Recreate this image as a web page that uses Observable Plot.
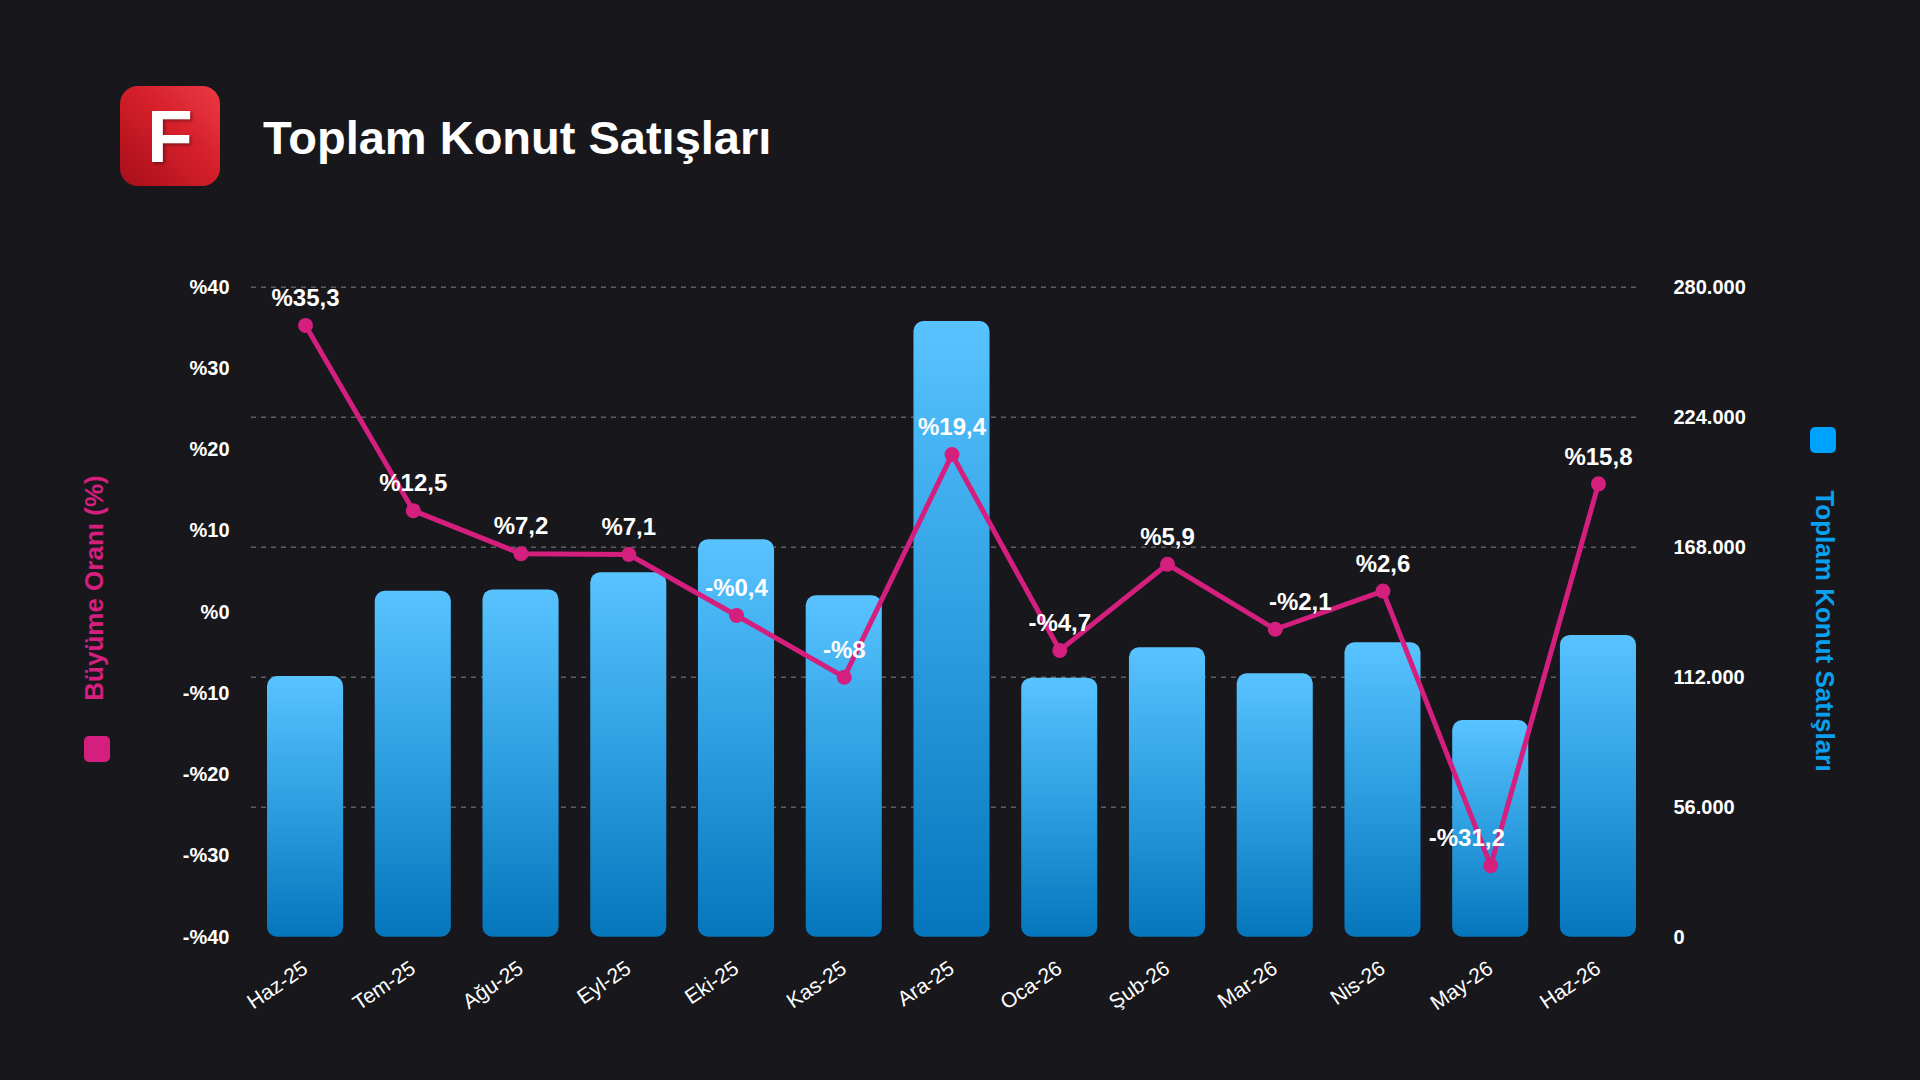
<!DOCTYPE html>
<html lang="tr">
<head>
<meta charset="utf-8">
<script src="https://cdn.jsdelivr.net/npm/d3@7"></script>
<script src="https://cdn.jsdelivr.net/npm/@observablehq/plot@0.6"></script>
<style>
  html, body { margin: 0; padding: 0; }
  body {
    width: 1920px; height: 1080px; overflow: hidden; position: relative;
    background: #18181c; font-family: "Liberation Sans", Arial, Helvetica, sans-serif; color: #fff;
  }
  #logo {
    position: absolute; left: 120px; top: 86px; width: 100px; height: 100px; border-radius: 18px;
    background: linear-gradient(to bottom left, #ec3a44 0%, #d41f2a 45%, #a70f19 100%);
    color: #fff; font-weight: bold; font-size: 75px; line-height: 100px; text-align: center;
    text-shadow: 2px 2px 3px rgba(0,0,0,0.35);
  }
  #title {
    position: absolute; left: 263px; top: 114px; font-size: 47px; line-height: 47px; font-weight: bold;
    color: #fff; white-space: nowrap;
  }
  .axtitle {
    position: absolute; font-size: 26px; font-weight: bold; white-space: nowrap; line-height: 26px;
  }
  #ltitle { left: 94px; top: 588px; color: #d41f7f; transform: translate(-50%, -50%) rotate(-90deg); }
  #rtitle { left: 1825px; top: 631px; color: #0aa0f0; transform: translate(-50%, -50%) rotate(90deg); }
  .sq { position: absolute; width: 26px; height: 26px; border-radius: 5px; }
  #lsq { left: 84px; top: 736px; background: #d41f7f; }
  #rsq { left: 1810px; top: 427px; background: #00a2ff; }
  #chart { position: absolute; left: 0; top: 199px; }
</style>
</head>
<body>
<div id="logo">F</div>
<div id="title">Toplam Konut Satışları</div>
<div class="axtitle" id="ltitle">Büyüme Oranı (%)</div>
<div class="sq" id="lsq"></div>
<div class="axtitle" id="rtitle">Toplam Konut Satışları</div>
<div class="sq" id="rsq"></div>
<div id="chart"></div>
<script>
const months = ["Haz-25","Tem-25","Ağu-25","Eyl-25","Eki-25","Kas-25","Ara-25","Oca-26","Şub-26","Mar-26","Nis-26","May-26","Haz-26"];
const sales = [112300, 149000, 149600, 157000, 171200, 147100, 265200, 111600, 124700, 113500, 126800, 93300, 130000];
const growth = [35.3, 12.5, 7.2, 7.1, -0.4, -8, 19.4, -4.7, 5.9, -2.1, 2.6, -31.2, 15.8];
const salesTicks = [0, 56000, 112000, 168000, 224000, 280000];
const gridTicks = [56000, 112000, 168000, 224000, 280000];
const growthTicks = [-40, -30, -20, -10, 0, 10, 20, 30, 40];

const data = months.map((m, i) => ({month: m, sales: sales[i], growth: growth[i]}));

// label collision nudges (horizontal, px) as in the original layout
const labelNudge = {"Mar-26": 25, "May-26": -24};

const SMAX = 280000, GMIN = -40, GMAX = 40;
const toY = g => (g - GMIN) / (GMAX - GMIN) * SMAX;
const fromY = v => v / SMAX * (GMAX - GMIN) + GMIN;
const fmtPct = v => (v < 0 ? "-" : "") + "%" + String(Math.abs(v)).replace(".", ",");
const fmtNum = v => d3.format(",")(v).replace(/,/g, ".");

const MAG = "#d41f7f";

const defs = () => {
  const d = d3.create("svg:defs");
  const g = d.append("linearGradient").attr("id", "barGrad")
    .attr("x1", 0).attr("y1", 0).attr("x2", 0).attr("y2", 1);
  g.append("stop").attr("offset", "0%").attr("stop-color", "#58c3ff");
  g.append("stop").attr("offset", "50%").attr("stop-color", "#2d9ee0");
  g.append("stop").attr("offset", "100%").attr("stop-color", "#0576bc");
  return d.node();
};

const plain = data.filter(d => !(d.month in labelNudge));
const nudged = data.filter(d => d.month in labelNudge);

const chart = Plot.plot({
  width: 1920,
  height: 880,
  marginTop: 87.7,
  marginBottom: 142.3,
  marginLeft: 251,
  marginRight: 283,
  style: {background: "transparent", color: "#fff", fontFamily: "'Liberation Sans', Arial, Helvetica, sans-serif", overflow: "visible"},
  x: {type: "band", domain: months, range: [267, 1636], paddingInner: 0.294, paddingOuter: 0, round: false, label: null},
  y: {domain: [0, SMAX], label: null},
  marks: [
    defs,
    Plot.gridY(gridTicks, {stroke: "#5e5e64", strokeOpacity: 1, strokeWidth: 1.5, strokeDasharray: "5,5"}),
    Plot.barY(data, {x: "month", y: "sales", fill: "url(#barGrad)", rx: 10}),
    Plot.line(data, {x: "month", y: d => toY(d.growth), stroke: MAG, strokeWidth: 5, strokeLinejoin: "round"}),
    Plot.dot(data, {x: "month", y: d => toY(d.growth), r: 7.5, fill: MAG, stroke: "none"}),
    Plot.text(plain, {x: "month", y: d => toY(d.growth), text: d => fmtPct(d.growth), dy: -27, fontSize: 24, fontWeight: "bold", fill: "#fff"}),
    ...nudged.map(d => Plot.text([d], {x: "month", y: v => toY(v.growth), text: v => fmtPct(v.growth), dx: labelNudge[d.month], dy: -27, fontSize: 24, fontWeight: "bold", fill: "#fff"})),
    Plot.axisY(growthTicks.map(toY), {anchor: "left", tickSize: 0, tickPadding: 22, tickFormat: v => fmtPct(Math.round(fromY(v))), fontSize: 20, fontWeight: "bold", color: "#fff", label: null}),
    Plot.axisY(salesTicks, {anchor: "right", tickSize: 0, tickPadding: 36, tickFormat: fmtNum, fontSize: 20, fontWeight: "bold", color: "#fff", label: null}),
    Plot.axisX({tickSize: 0, tickPadding: 29, tickRotate: -34, fontSize: 21, color: "#fff", label: null})
  ]
});
document.getElementById("chart").appendChild(chart);
</script>
</body>
</html>
